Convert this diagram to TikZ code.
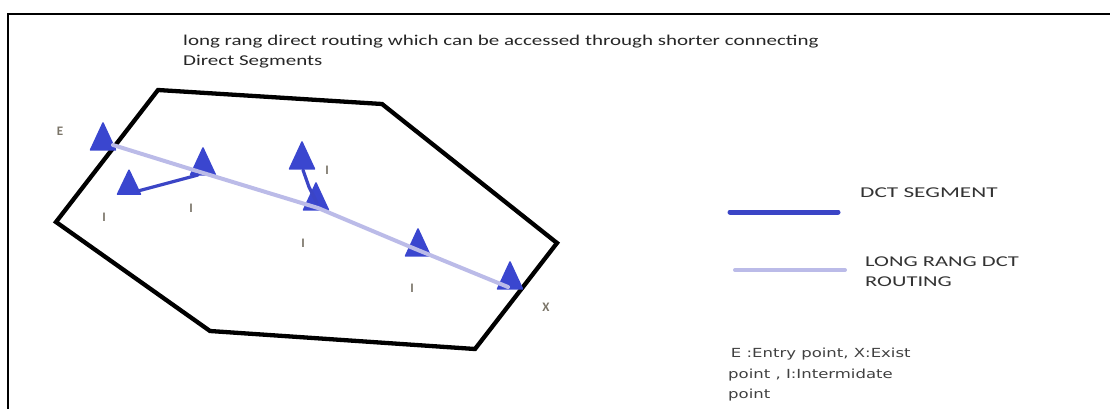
\documentclass[tikz,border=0pt]{standalone}
\usepackage{fontspec}
\setmainfont{Carlito}
\newfontfamily\legfont{DejaVu Sans}
\usetikzlibrary{shapes.geometric}
\definecolor{tri}{HTML}{3A46CF}
\definecolor{seg}{HTML}{3B45C6}
\definecolor{route}{HTML}{BBBBE8}
\definecolor{lbl}{HTML}{7A7468}
\newcommand{\wide}[2]{\scalebox{#1}[1]{\begin{tabular}{@{}l@{}}#2\end{tabular}}}
\tikzset{
  tri/.style={isosceles triangle, shape border rotate=90, isosceles triangle stretches,
    minimum width=25pt, minimum height=27pt, inner sep=0pt, fill=tri, draw=tri, line width=1.5pt, line join=round},
  trismall/.style={tri, minimum width=23pt, minimum height=24pt},
  border/.style={line width=4.3pt, black, line join=miter},
  dctseg/.style={line width=3.2pt, seg, line cap=round, line join=round},
  routeline/.style={line width=4pt, route, line cap=round, line join=round},
  ptlabel/.style={font=\bfseries\fontsize{13}{14}\selectfont, text=lbl, inner sep=0pt},
  legtext/.style={font=\fontsize{15}{20}\selectfont, text=black!80, inner sep=0pt, anchor=west, align=left},
}
\begin{document}
\begin{tikzpicture}[x=1pt,y=-1pt]
\useasboundingbox (0,0) rectangle (1110,409);
% frame
\draw[line width=2pt] (8,410) -- (8,14) -- (1112,14);
% title
\node[anchor=north west, inner sep=0pt, font=\fontsize{15}{20}\selectfont, text=black!85] (title) at (183,31)
  {\wide{1.4}{long rang direct routing which can be accessed through shorter connecting\\Direct Segments}};
% polygon
\coordinate (p1) at (158,90);
\coordinate (p2) at (382,104);
\coordinate (p3) at (557,243);
\coordinate (p4) at (475,349);
\coordinate (p5) at (210,331);
\coordinate (p6) at (56,222);
\draw[border] (p1) -- (p2) -- (p3) -- (p4) -- (p5) -- (p6) -- cycle;
% route line
\coordinate (rs) at (113,145);
\coordinate (r1) at (200,172);
\coordinate (r2) at (318,208);
\coordinate (r3) at (413,248);
\coordinate (re) at (508,287);
% triangles
\node[tri] (E) at (103,142) {};
\node[trismall] (I1) at (129,187) {};
\node[tri] (I2) at (203,167) {};
\node[tri] (I3) at (302,161) {};
\node[tri] (I4) at (316,202) {};
\node[tri] (I5) at (418,248) {};
\node[tri] (X) at (510,281) {};
\draw[routeline] (rs) -- (r1) -- (r2) -- (r3) -- (re);
% DCT segments
\coordinate (d1) at (198,175);
\coordinate (d2) at (138,191);
\draw[dctseg] (d1) -- (d2);
\coordinate (d3) at (303,170);
\coordinate (d4) at (309,187);
\coordinate (d5) at (317,203);
\draw[dctseg] (d3) -- (d4) -- (d5);
% point labels
\node[ptlabel] (lE) at (60,131) {E};
\node[ptlabel] (l1) at (104,217) {I};
\node[ptlabel] (l2) at (191,208) {I};
\node[ptlabel] (l3) at (327,170) {I};
\node[ptlabel] (l4) at (303,243) {I};
\node[ptlabel] (l5) at (412,288) {I};
\node[ptlabel] (lX) at (546,307) {X};
% legend
\coordinate (la) at (730,212);
\coordinate (lb) at (838,212);
\draw[line width=5pt, seg, line cap=round] (la) -- (lb);
\coordinate (lc) at (735,270);
\coordinate (ld) at (845,270);
\draw[routeline] (lc) -- (ld);
\node[legtext] (t1) at (860,193) {\wide{1.55}{DCT SEGMENT}};
\node[legtext, anchor=north west] (t2) at (865,252) {\wide{1.5}{LONG RANG DCT\\ROUTING}};
\node[anchor=north west, inner sep=0pt, font=\legfont\fontsize{12.5}{20.5}\selectfont, text=black!75] (t3) at (728,343)
  {\wide{1.32}{\,E :Entry point, X:Exist\\point , I:Intermidate\\point}};
\end{tikzpicture}
\end{document}
